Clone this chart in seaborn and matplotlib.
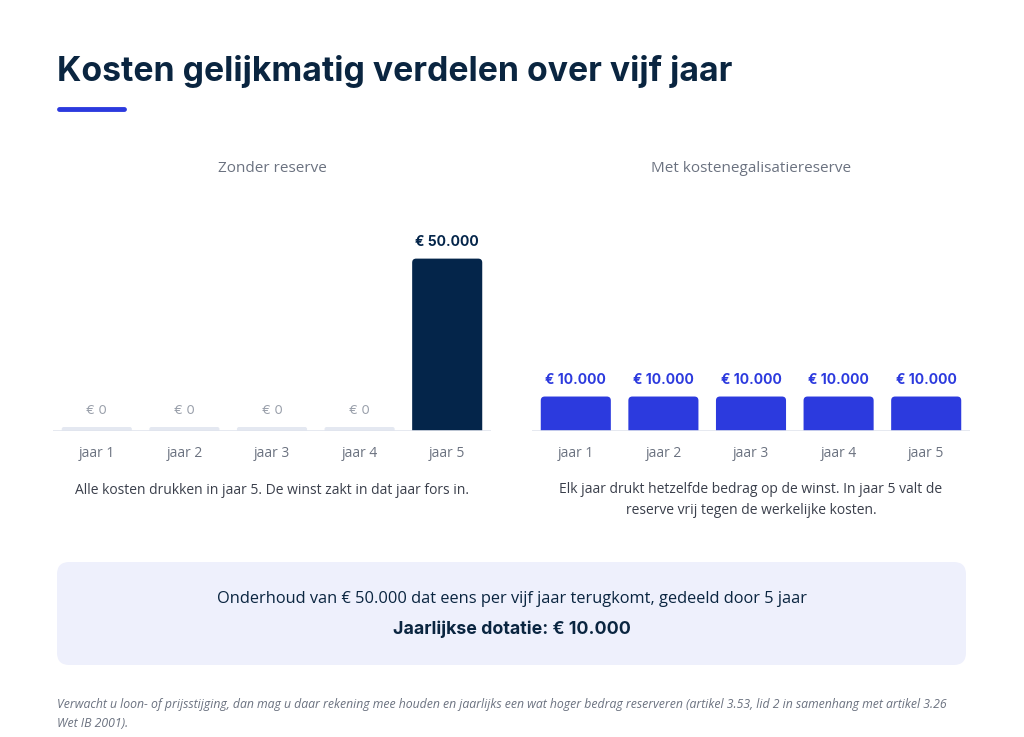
import matplotlib
matplotlib.use("Agg")
import matplotlib.pyplot as plt
from matplotlib.patches import FancyBboxPatch
import seaborn as sns
import pandas as pd

# data
years = ["jaar 1", "jaar 2", "jaar 3", "jaar 4", "jaar 5"]
zonder = [0, 0, 0, 0, 50000]
met = [10000, 10000, 10000, 10000, 10000]

NAVY = "#04254a"
BLUE = "#2c3ade"
GRAY = "#6b7280"
STUB = "#e4e8f1"
TEXT = "#3a3f4b"

sns.set_theme(style="white")
plt.rcParams["font.family"] = ["Open Sans", "DejaVu Sans"]

fig = plt.figure(figsize=(10.24, 7.37), dpi=100)
W, H = 1024, 737


def fx(px):
    return px / W


def fy(py):
    return 1 - py / H


def euro(v):
    return "€ " + f"{v:,.0f}".replace(",", ".")


def draw_panel(left_px, right_px, values, colour):
    ax = fig.add_axes([fx(left_px), fy(431), fx(right_px - left_px), (431 - 200) / H])
    ymax = 67000
    ppx = (right_px - left_px) / 5.0          # pixels per x unit
    ppy = 231 / ymax                           # pixels per y unit
    stub = 4 / ppy
    df = pd.DataFrame({"jaar": years, "bedrag": values})
    # zero bars shown as a thin grey stub
    df["hoogte"] = [v if v > 0 else stub for v in values]
    cols = [colour if v > 0 else STUB for v in values]
    sns.barplot(data=df, x="jaar", y="hoogte", hue="jaar", palette=cols,
                legend=False, width=0.8, ax=ax, saturation=1,
                edgecolor="none", linewidth=0)
    ax.set_ylim(0, ymax)
    ax.set_xlim(-0.5, 4.5)
    # round the top corners, hide the bottom ones below the baseline
    for p, v, c in zip(list(ax.patches), values, cols):
        x, w, h = p.get_x(), p.get_width(), p.get_height()
        p.remove()
        r = 4 if v > 0 else 2
        below = r / ppy
        fb = FancyBboxPatch((x, -below), w, h + below,
                            boxstyle=f"round,pad=0,rounding_size={r / ppx}",
                            mutation_aspect=ppx / ppy,
                            facecolor=c, edgecolor="none", linewidth=0, zorder=2)
        ax.add_patch(fb)
        if v > 0:
            ax.text(x + w / 2, h + 17 / ppy, euro(v), ha="center", va="center",
                    fontsize=10, fontweight="bold", color=colour,
                    family=["Inter", "DejaVu Sans"])
        else:
            ax.text(x + w / 2, 20 / ppy, euro(v), ha="center", va="center",
                    fontsize=9.5, color="#9aa0ab", family=["Inter", "DejaVu Sans"])
    ax.axhline(0, color="#e1e5ee", lw=1.2, zorder=3)
    ax.set_xlabel("")
    ax.set_ylabel("")
    ax.set_yticks([])
    ax.tick_params(axis="x", length=0, pad=11, labelsize=10, labelcolor=GRAY)
    sns.despine(ax=ax, left=True, bottom=True)
    ax.patch.set_alpha(0)
    return ax


draw_panel(53, 491, zonder, NAVY)
draw_panel(532, 970, met, BLUE)

# title and accent line
fig.text(fx(57), fy(72), "Kosten gelijkmatig verdelen over vijf jaar", ha="left",
         va="center", fontsize=24.3, fontweight="bold", color="#0a2540",
         family=["Inter", "DejaVu Sans"])
fig.add_artist(plt.Line2D([fx(59), fx(124)], [fy(109), fy(109)], color=BLUE,
                          lw=3.5, solid_capstyle="round"))

# panel titles
fig.text(fx(272), fy(168), "Zonder reserve", ha="center", va="center",
         fontsize=11, color=GRAY)
fig.text(fx(751), fy(168), "Met kostenegalisatiereserve", ha="center",
         va="center", fontsize=11, color=GRAY)

# captions
fig.text(fx(272), fy(490), "Alle kosten drukken in jaar 5. De winst zakt in dat jaar fors in.",
         ha="center", va="center", fontsize=10, color=TEXT)
fig.text(fx(751), fy(500),
         "Elk jaar drukt hetzelfde bedrag op de winst. In jaar 5 valt de\nreserve vrij tegen de werkelijke kosten.",
         ha="center", va="center", fontsize=10, color=TEXT, linespacing=1.6)

# summary box
box = FancyBboxPatch((fx(57), fy(665)), fx(966 - 57), (665 - 562) / H,
                     boxstyle="round,pad=0,rounding_size=0.012",
                     mutation_aspect=W / H,
                     transform=fig.transFigure, facecolor="#eef0fc",
                     edgecolor="none")
fig.add_artist(box)
fig.text(fx(512), fy(599),
         "Onderhoud van € 50.000 dat eens per vijf jaar terugkomt, gedeeld door 5 jaar",
         ha="center", va="center", fontsize=11.8, color="#0a2540")
fig.text(fx(512), fy(629), "Jaarlijkse dotatie: € 10.000", ha="center",
         va="center", fontsize=12.8, fontweight="bold", color="#0a2540",
         family=["Inter", "DejaVu Sans"])

# footnote
fig.text(fx(57), fy(714),
         "Verwacht u loon- of prijsstijging, dan mag u daar rekening mee houden en jaarlijks een wat hoger bedrag reserveren (artikel 3.53, lid 2 in samenhang met artikel 3.26\nWet IB 2001).",
         ha="left", va="center", fontsize=8.85, style="italic", color="#6b7280",
         linespacing=1.55)

fig.savefig("out.png", dpi=100, facecolor="white")
